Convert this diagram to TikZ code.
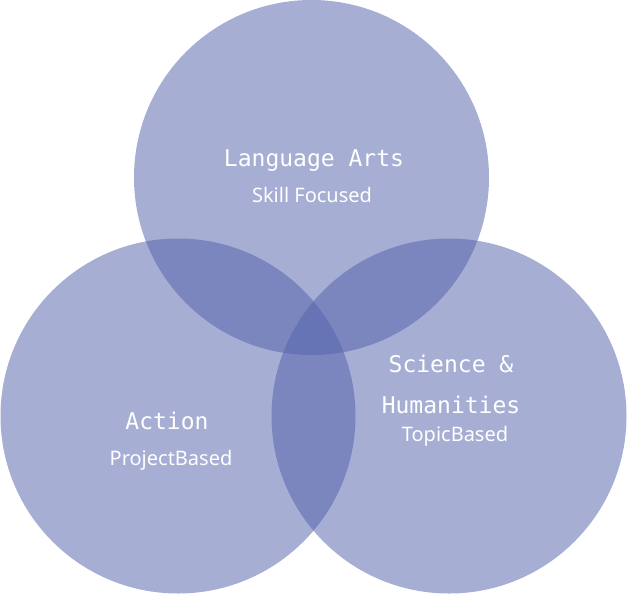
\documentclass[tikz,border=0pt]{standalone}
\usepackage{fontspec}
\setmainfont{Noto Sans}
\newfontfamily\titlefont{DejaVu Sans Mono}
\usetikzlibrary{positioning}

\definecolor{venncol}{RGB}{83,98,172}

\begin{document}
\begin{tikzpicture}[
    x=1pt, y=-1pt,
    venn/.style={circle, fill=venncol, fill opacity=0.517, inner sep=0pt, minimum size=355pt},
    title/.style={text=white, anchor=base, inner sep=0pt, font=\titlefont\fontsize{23}{27}\selectfont},
    sub/.style={text=white, anchor=base, inner sep=0pt, font=\fontsize{20}{24}\selectfont},
]
\useasboundingbox (0,0) rectangle (628,594);

%% CIRCLES
    \node[venn] (lang_arts) at (311.5,177.5) {};
    \node[venn] (action) at (178,416) {};
    \node[venn] (science) at (449,416) {};

%% LABELS
    % language arts
    \node[title] (lang_title) at (314,166) {Language Arts};
    \node[sub] (lang_sub) at (312,202) {Skill Focused};

    % science & humanities
    \node[title] (sci_title) at (451,372) {Science \&};
    \node[title] (hum_title) at (451,413) {Humanities};
    \node[sub] (sci_sub) at (455,441) {TopicBased};

    % action
    \node[title] (act_title) at (167,429) {Action};
    \node[sub] (act_sub) at (171,465) {ProjectBased};

\end{tikzpicture}
\end{document}
